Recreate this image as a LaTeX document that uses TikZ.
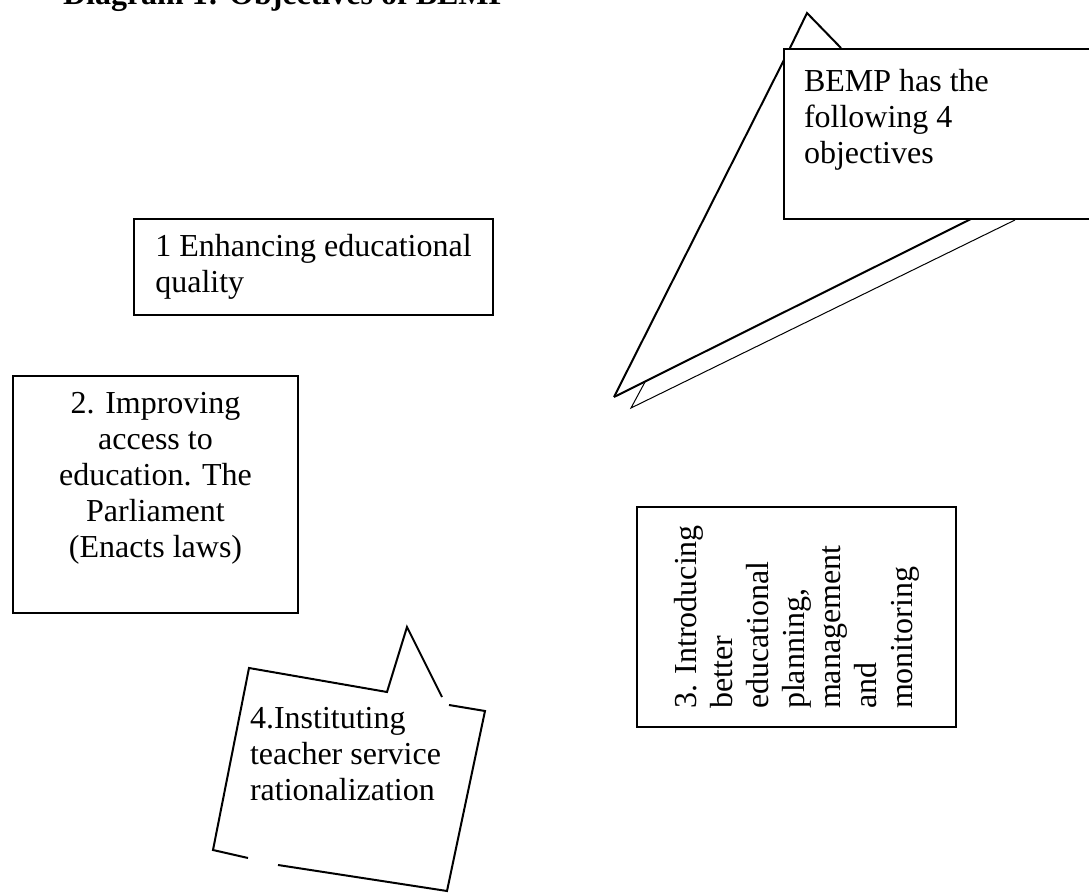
\documentclass[tikz,border=0pt]{standalone}
\usepackage{fontspec}
\setmainfont{Liberation Serif}
\usetikzlibrary{positioning}

\begin{document}
\begin{tikzpicture}[x=0.5pt, y=-0.5pt, line width=1pt,
  objbox/.style={draw, fill=white, inner sep=0pt},
  objtext/.style={inner sep=0pt, align=left, font=\fontsize{16}{18}\selectfont},
  thinline/.style={line width=0.5pt}]
  \useasboundingbox (0,0) rectangle (1089,894);
  \clip (0,0) rectangle (1089,894);

  \node[objtext, font=\fontsize{16}{18}\selectfont\bfseries, anchor=base west] (title) at (62,4) {Diagram 1: Objectives of BEMP};

  % callout of BEMP
  \coordinate (tip) at (614,397);
  \draw[thinline] (645,382) -- (631,408) -- (1015,220);
  \draw (tip) -- (790,48) -- (807,13) -- (841,48);
  \draw (tip) -- (973,218);
  \node[objbox, anchor=north west, minimum width=158.5pt, minimum height=85pt] (bemp) at (783,48) {};
  \node[objtext, below right=10pt and 10pt of bemp.north west] (bempT) {BEMP has the\\following 4\\objectives};

  \node[objbox, objtext, anchor=north west, minimum width=179.5pt, minimum height=48pt] (obj1) at (133,218)
    {1 Enhancing educational\\quality};

  \node[objbox, anchor=north west, minimum width=142.5pt, minimum height=118.5pt] (obj2) at (12,375) {};
  \node[objtext, align=center, below=8pt of obj2.north] (obj2T)
    {2. Improving\\access to\\education. The\\Parliament\\(Enacts laws)};

  \node[objbox, objtext, rotate=90, minimum width=110pt, minimum height=159.5pt] (obj3) at (796.5,617)
    {3. Introducing\\better\\educational\\planning,\\management\\and\\monitoring};

  % callout of objective 4
  \draw (442,697) -- (407,627) -- (387,692) -- (249,668) -- (213,850) -- (248,858);
  \draw (278,865) -- (447,891) -- (485,711) -- (449,705);
  \node[objtext, anchor=north west] (obj4) at (249,706) {4.Instituting\\teacher service\\rationalization};
\end{tikzpicture}
\end{document}
